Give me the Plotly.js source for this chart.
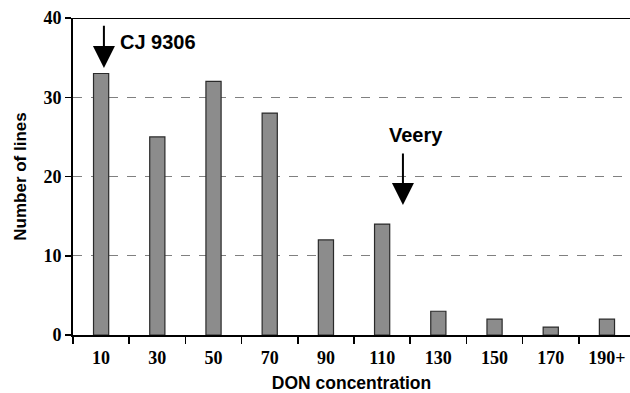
<!DOCTYPE html>
<html>
<head>
<meta charset="utf-8">
<script src="https://cdn.plot.ly/plotly-3.0.1.min.js"></script>
<style>html,body{margin:0;padding:0;background:#fff;}#chart{width:630px;height:393px;}</style>
</head>
<body>
<div id="chart"></div>
<script>
const categories = ["10","30","50","70","90","110","130","150","170","190+"];
const lineCounts = [33, 25, 32, 28, 12, 14, 3, 2, 1, 2];
const yTicks = [0, 10, 20, 30, 40];

const trace = {
  type: "bar",
  x: categories,
  y: lineCounts,
  width: 0.27,
  marker: { color: "#8c8c8c", line: { color: "#2a2a2a", width: 1.2 } },
  hoverinfo: "skip"
};

const serifBold = { family: "Liberation Serif, Times New Roman, serif", size: 18, color: "#000", weight: 700 };
const sansBold = sz => ({ family: "Liberation Sans, Arial, sans-serif", size: sz, color: "#000", weight: 700 });

const layout = {
  width: 630, height: 393,
  margin: { l: 73, r: 0, t: 18, b: 58 },
  paper_bgcolor: "#fff", plot_bgcolor: "#fff",
  showlegend: false,
  xaxis: {
    type: "category",
    range: [-0.5, 9.41],
    tickson: "boundaries",
    ticks: "outside", ticklen: 7, tickwidth: 1.5, tickcolor: "#000",
    ticklabelstandoff: 5,
    showline: true, linecolor: "#000", linewidth: 2,
    showgrid: false, zeroline: false,
    tickfont: serifBold,
    title: { text: "DON concentration", standoff: 10, font: sansBold(17.5) }
  },
  yaxis: {
    range: [0, 40],
    tickvals: yTicks,
    ticks: "outside", ticklen: 6, tickwidth: 1.5, tickcolor: "#000",
    showline: true, linecolor: "#000", linewidth: 2,
    showgrid: true, gridcolor: "#808080", griddash: "dash", gridwidth: 1,
    zeroline: false,
    tickfont: serifBold,
    title: { text: "Number of lines", standoff: 12, font: sansBold(17) }
  },
  shapes: [
    { type: "line", xref: "paper", yref: "y", x0: 0, x1: 1, y0: 40, y1: 40,
      line: { color: "#000", width: 2 } }
  ],
  annotations: [
    { x: 0.05, y: 33.7, xref: "x", yref: "y", ax: 0.05, ay: 39.2, axref: "x", ayref: "y",
      showarrow: true, arrowhead: 2, arrowsize: 2.2, arrowwidth: 2, arrowcolor: "#000", text: "" },
    { x: 0.3, y: 37, xref: "x", yref: "y", xanchor: "left", yanchor: "middle", showarrow: false,
      text: "CJ 9306", font: sansBold(20) },
    { x: 5.37, y: 16.4, xref: "x", yref: "y", ax: 5.37, ay: 23.1, axref: "x", ayref: "y",
      showarrow: true, arrowhead: 2, arrowsize: 2.2, arrowwidth: 2, arrowcolor: "#000", text: "" },
    { x: 5.6, y: 25.2, xref: "x", yref: "y", xanchor: "center", yanchor: "middle", showarrow: false,
      text: "Veery", font: sansBold(20) }
  ]
};

Plotly.newPlot("chart", [trace], layout, { staticPlot: true, displayModeBar: false });
</script>
</body>
</html>
